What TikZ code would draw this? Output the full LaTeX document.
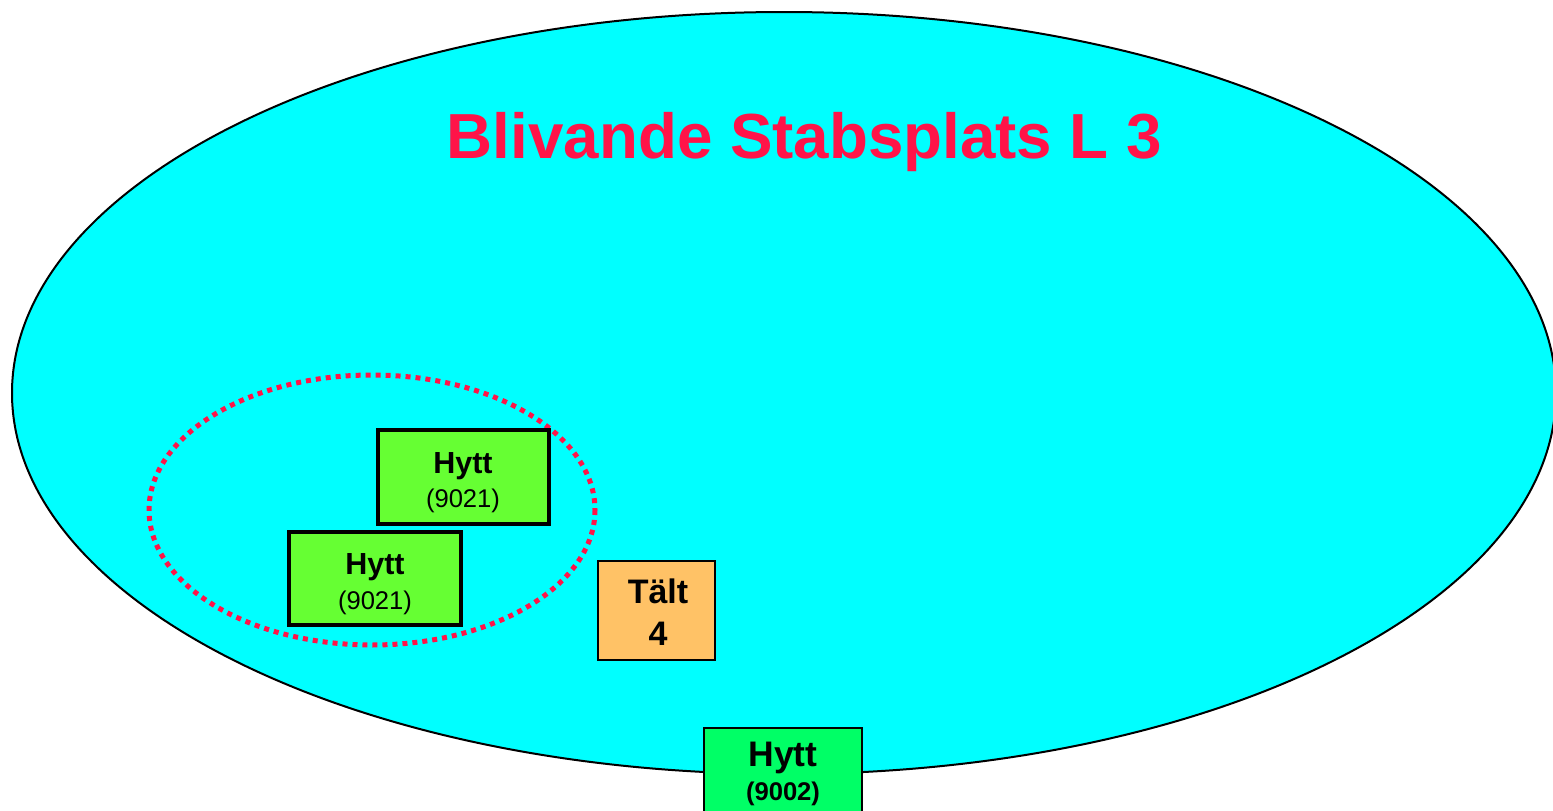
\documentclass[tikz,border=0pt]{standalone}
\usepackage{fontspec}
\setmainfont{Liberation Sans}
\definecolor{skycyan}{RGB}{0,255,255}
\definecolor{hyttgreen}{RGB}{102,255,51}
\definecolor{hyttmint}{RGB}{0,255,102}
\definecolor{taltorange}{RGB}{255,194,102}
\definecolor{titlered}{RGB}{255,20,72}
\tikzset{
  thickbox/.style={draw=black, line width=4.5pt, fill=hyttgreen, inner sep=0pt},
  thinbox/.style={draw=black, line width=2pt, inner sep=0pt},
  boldlbl/.style={anchor=base, inner sep=0pt, font=\bfseries\fontsize{30.5}{34}\selectfont},
  numlbl/.style={anchor=base, inner sep=0pt, font=\fontsize{25.6}{30}\selectfont},
}
\begin{document}
\begin{tikzpicture}[x=1pt,y=-1pt]
\useasboundingbox (0,0) rectangle (1553,811);
% big ellipse
\draw[line width=2pt, fill=skycyan] (784,393) ellipse [x radius=772, y radius=381];
% title
\node[anchor=base, inner sep=0pt, text=titlered, font=\bfseries\fontsize{63.7}{70}\selectfont] (title) at (804.5,158) {Blivande Stabsplats L 3};
% dotted ellipse
\draw[titlered, line width=5pt, dash pattern=on 5pt off 5pt] (372,510) ellipse [x radius=223, y radius=135];
% upper Hytt
\node[thickbox, minimum width=171pt, minimum height=94pt] (hyttA) at (463.5,477) {};
\node[boldlbl] (hyttAt) at (463,473) {Hytt};
\node[numlbl] (hyttAn) at (463,507) {(9021)};
% lower Hytt
\node[thickbox, minimum width=172pt, minimum height=93pt] (hyttB) at (375,578.5) {};
\node[boldlbl] (hyttBt) at (375,574) {Hytt};
\node[numlbl] (hyttBn) at (375,609) {(9021)};
% Talt
\node[thinbox, fill=taltorange, minimum width=117pt, minimum height=99pt] (talt) at (656.5,610.5) {};
\node[anchor=base, inner sep=0pt, font=\bfseries\fontsize{34}{38}\selectfont] (taltt) at (658,603) {Tält};
\node[anchor=base, inner sep=0pt, font=\bfseries\fontsize{34}{38}\selectfont] (taltn) at (658,645) {4};
% bottom Hytt
\node[thinbox, fill=hyttmint, minimum width=158pt, minimum height=92pt] (hyttC) at (783,774) {};
\node[anchor=base, inner sep=0pt, font=\bfseries\fontsize{35.5}{40}\selectfont] (hyttCt) at (783,766) {Hytt};
\node[anchor=base, inner sep=0pt, font=\bfseries\fontsize{25.6}{30}\selectfont] (hyttCn) at (783,800) {(9002)};
\end{tikzpicture}
\end{document}
